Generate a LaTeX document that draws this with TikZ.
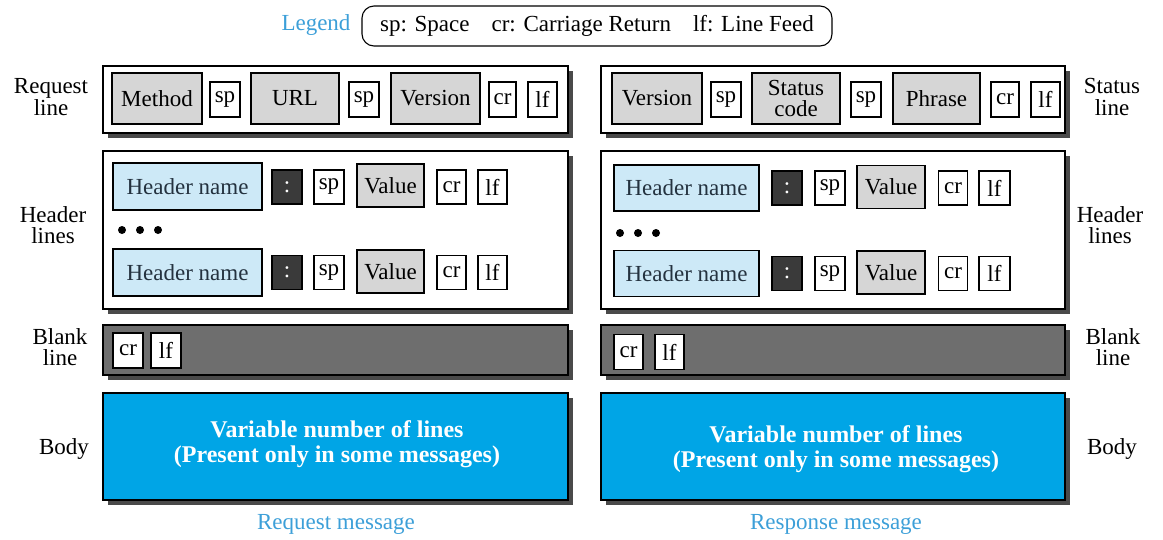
\documentclass[tikz,border=0pt]{standalone}
\usepackage{fontspec}
\setmainfont{Liberation Serif}
\definecolor{fieldgray}{HTML}{D6D6D6}
\definecolor{hblue}{HTML}{CDE9F7}
\definecolor{colondark}{HTML}{3A3A3A}
\definecolor{blankgray}{HTML}{6E6E6E}
\definecolor{bodyblue}{HTML}{00A5E6}
\definecolor{captionblue}{HTML}{3C9FD8}
\definecolor{shadowgray}{HTML}{4A4A4A}
\definecolor{hnametext}{HTML}{24323F}
\tikzset{
  base/.style={inner sep=0pt, font=\rmfamily\fontsize{23}{21.5}\selectfont, align=center},
  frame/.style={base, draw, line width=1.2pt, fill=white,
    preaction={fill=shadowgray, transform canvas={xshift=4.5pt, yshift=-4.5pt}}},
  field/.style={base, draw, line width=1.1pt, fill=fieldgray},
  tinybox/.style={base, draw, line width=1.1pt, fill=white, minimum height=35pt},
  hname/.style={base, draw, line width=1.1pt, fill=hblue, text=hnametext, minimum width=149pt, minimum height=47pt},
  colonbox/.style={base, draw, line width=1.1pt, fill=colondark, text=white, minimum width=30pt, minimum height=34pt},
  valbox/.style={base, draw, line width=1.1pt, fill=fieldgray, minimum width=67pt, minimum height=43pt},
  sidelabel/.style={base},
  caption/.style={base, text=captionblue},
  bodytext/.style={base, text=white, font=\rmfamily\fontsize{24}{25}\selectfont\bfseries},
  dot/.style={circle, fill=black, inner sep=0pt, minimum size=8pt}
}
\begin{document}
\begin{tikzpicture}[x=1pt, y=-1pt]
\useasboundingbox (0,0) rectangle (1163,539);

% Legend
\node[caption] (leg) at (316,25) {Legend};
\node[base, draw, line width=1.1pt, rounded corners=12pt, minimum width=470pt, minimum height=40pt] (legbox) at (597,26)
  {sp: Space\hspace{22pt}cr: Carriage Return\hspace{22pt}lf: Line Feed};

% ---------- Request message ----------
\node[frame, minimum width=465pt, minimum height=67pt] (reqline) at (335.5,99.5) {};
\node[field, minimum width=90pt, minimum height=51pt] (method) at (157,98.5) {Method};
\node[tinybox, minimum width=30pt] (rsp1) at (225,99.5) {sp};
\node[field, minimum width=88pt, minimum height=51pt] (url) at (295,98.5) {URL};
\node[tinybox, minimum width=30pt] (rsp2) at (364,99.5) {sp};
\node[field, minimum width=89pt, minimum height=51pt] (rver) at (435.5,98.5) {Version};
\node[tinybox, minimum width=27pt] (rcr) at (502.5,99.5) {cr};
\node[tinybox, minimum width=29pt] (rlf) at (542.5,99.5) {lf};

\node[frame, minimum width=465pt, minimum height=158pt] (reqhdr) at (335.5,230) {};
\node[hname] (lh1) at (187.5,186.5) {Header name};
\node[colonbox] (lc1) at (287,187) {:};
\node[tinybox, minimum width=30pt, minimum height=34pt] (ls1) at (329,187) {sp};
\node[valbox] (lv1) at (390.5,185.5) {Value};
\node[tinybox, minimum width=29pt, minimum height=34pt] (lcr1) at (451.5,187) {cr};
\node[tinybox, minimum width=29pt, minimum height=34pt] (llf1) at (492.5,187) {lf};
\node[dot] (ld1) at (122,230) {};
\node[dot] (ld2) at (140,230) {};
\node[dot] (ld3) at (158,230) {};
\node[hname] (lh2) at (187.5,272.5) {Header name};
\node[colonbox] (lc2) at (287,272.5) {:};
\node[tinybox, minimum width=30pt, minimum height=34pt] (ls2) at (329,272.5) {sp};
\node[valbox] (lv2) at (390.5,271.5) {Value};
\node[tinybox, minimum width=29pt, minimum height=34pt] (lcr2) at (451.5,272.5) {cr};
\node[tinybox, minimum width=29pt, minimum height=34pt] (llf2) at (492.5,272.5) {lf};

\node[frame, fill=blankgray, minimum width=465pt, minimum height=50pt] (reqblank) at (335.5,350) {};
\node[tinybox, minimum width=30pt] (lbcr) at (128,350.5) {cr};
\node[tinybox, minimum width=30pt] (lblf) at (166,350.5) {lf};

\node[frame, fill=bodyblue, minimum width=465pt, minimum height=107pt] (reqbody) at (335.5,446.5) {};
\node[bodytext] (lbt) at (337,444.5) {Variable number of lines\\(Present only in some messages)};

\node[caption] (reqcap) at (336,524) {Request message};

\node[sidelabel] (l1) at (51,97) {Request\\line};
\node[sidelabel] (l2) at (53,225) {Header\\lines};
\node[sidelabel] (l3) at (60,347) {Blank\\line};
\node[sidelabel] (l4) at (64,449) {Body};

% ---------- Response message ----------
\node[frame, minimum width=464pt, minimum height=67pt] (stline) at (833,99.5) {};
\node[field, minimum width=90pt, minimum height=51pt] (sver) at (657,98.5) {Version};
\node[tinybox, minimum width=30pt] (ssp1) at (726,99.5) {sp};
\node[field, minimum width=88pt, minimum height=51pt] (scode) at (796,98.5) {Status\\code};
\node[tinybox, minimum width=30pt] (ssp2) at (866,99.5) {sp};
\node[field, minimum width=87pt, minimum height=51pt] (phrase) at (936.5,98.5) {Phrase};
\node[tinybox, minimum width=28pt] (scr) at (1005,99.5) {cr};
\node[tinybox, minimum width=29pt] (slf) at (1045.5,99.5) {lf};

\node[frame, minimum width=464pt, minimum height=158pt] (reshdr) at (833,230) {};
\node[hname, minimum width=145pt, minimum height=46pt] (rh1) at (686.5,188) {Header name};
\node[colonbox] (rc1) at (787,188) {:};
\node[tinybox, minimum width=30pt, minimum height=34pt] (rs1) at (830,188) {sp};
\node[valbox, minimum width=68pt] (rv1) at (891,187) {Value};
\node[tinybox, minimum width=29pt, minimum height=34pt] (rcr1) at (953,188) {cr};
\node[tinybox, minimum width=31pt, minimum height=34pt] (rlf1) at (994.5,188) {lf};
\node[dot] (rd1) at (620,233) {};
\node[dot] (rd2) at (638,233) {};
\node[dot] (rd3) at (656,233) {};
\node[hname, minimum width=145pt, minimum height=46pt] (rh2) at (686.5,273.5) {Header name};
\node[colonbox] (rc2) at (787,273.5) {:};
\node[tinybox, minimum width=30pt, minimum height=34pt] (rs2) at (830,273.5) {sp};
\node[valbox, minimum width=68pt] (rv2) at (891,272.5) {Value};
\node[tinybox, minimum width=29pt, minimum height=34pt] (rcr2) at (953,273.5) {cr};
\node[tinybox, minimum width=31pt, minimum height=34pt] (rlf2) at (994.5,273.5) {lf};

\node[frame, fill=blankgray, minimum width=464pt, minimum height=50pt] (resblank) at (833,350) {};
\node[tinybox, minimum width=29pt] (rbcr) at (628.5,352) {cr};
\node[tinybox, minimum width=29pt] (rblf) at (669.5,352) {lf};

\node[frame, fill=bodyblue, minimum width=464pt, minimum height=107pt] (resbody) at (833,446.5) {};
\node[bodytext] (rbt) at (836,449.5) {Variable number of lines\\(Present only in some messages)};

\node[caption] (rescap) at (836,524) {Response message};

\node[sidelabel] (r1) at (1112,97) {Status\\line};
\node[sidelabel] (r2) at (1110,225) {Header\\lines};
\node[sidelabel] (r3) at (1113,347) {Blank\\line};
\node[sidelabel] (r4) at (1112,449) {Body};
\end{tikzpicture}
\end{document}
